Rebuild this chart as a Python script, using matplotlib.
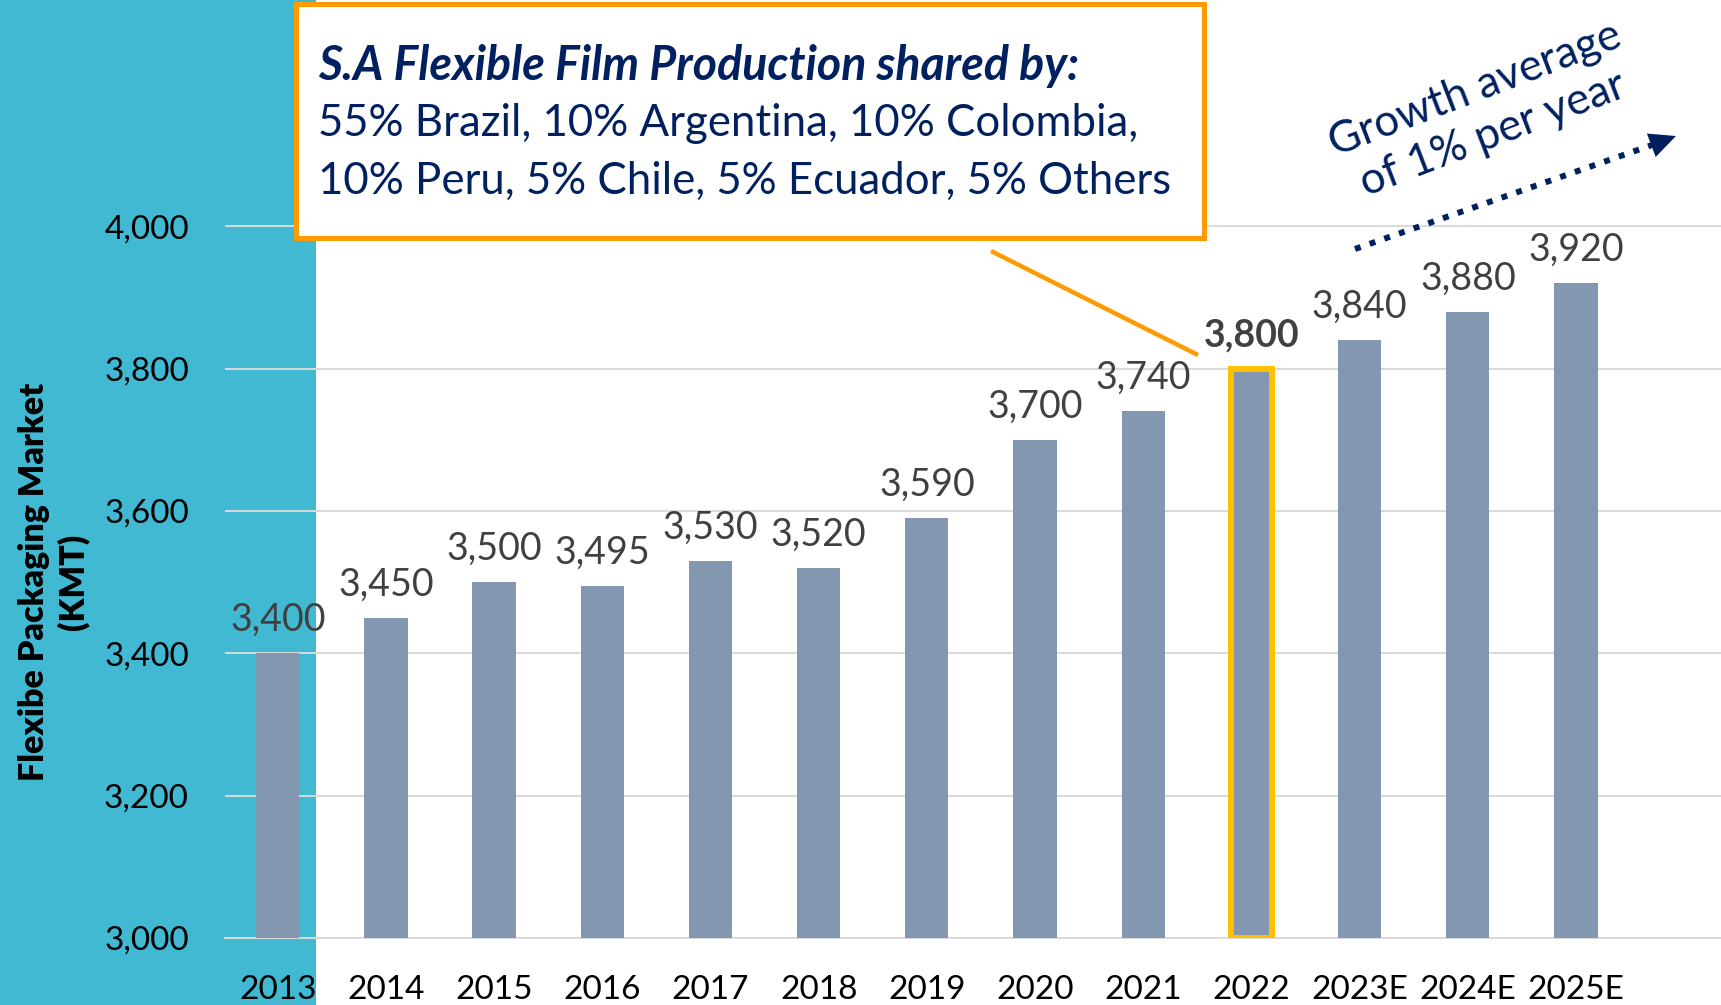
import matplotlib
matplotlib.use("Agg")
import matplotlib.pyplot as plt
from matplotlib.patches import Rectangle
from matplotlib.ticker import FuncFormatter

years = ["2013", "2014", "2015", "2016", "2017", "2018", "2019", "2020",
         "2021", "2022", "2023E", "2024E", "2025E"]
values = [3400, 3450, 3500, 3495, 3530, 3520, 3590, 3700, 3740, 3800, 3840, 3880, 3920]
highlight = "2022"
y_ticks = [3000, 3200, 3400, 3600, 3800, 4000]
ylabel = "Flexibe Packaging Market\n(KMT)"
box_title = "S.A Flexible Film Production shared by:"
box_lines = ["55% Brazil, 10% Argentina, 10% Colombia,",
             "10% Peru, 5% Chile, 5% Ecuador, 5% Others"]
growth_text = "Growth average\nof 1% per year"

FONT = "Lato"
plt.rcParams["font.family"] = [FONT, "DejaVu Sans"]

W, H = 1721, 1005
fig = plt.figure(figsize=(W / 100, H / 100), dpi=100)
fig.patch.set_facecolor("white")

def fx(px):
    return px / W

def fy(py):
    return 1 - py / H

# teal band on the left (drawn behind the axes)
fig.patches.append(Rectangle((0, 0), fx(316), 1, transform=fig.transFigure,
                             facecolor="#41B9D3", edgecolor="none", zorder=-10))

ax_left, ax_right = fx(225), 1.0
ax_bottom, ax_top = fy(938), fy(155)
ax = fig.add_axes([ax_left, ax_bottom, ax_right - ax_left, ax_top - ax_bottom])
ax.set_facecolor("none")
ax.patch.set_alpha(0)

x = list(range(len(years)))
bar_color = "#8497B0"
for i, (yr, v) in enumerate(zip(years, values)):
    if yr == highlight:
        ax.bar(i, v - 3000, bottom=3000, width=0.38, color=bar_color,
               edgecolor="#FFC000", linewidth=4.3, zorder=3)
    else:
        ax.bar(i, v - 3000, bottom=3000, width=0.4, color=bar_color,
               edgecolor="none", zorder=3)
    ax.annotate(f"{v:,}", (i, v), xytext=(0, 24), textcoords="offset points",
                ha="center", va="center", fontsize=27, color="#404040",
                fontweight="bold" if yr == highlight else "normal",
                annotation_clip=False, zorder=5)

ax.set_xlim(-0.487, 13.34)
ax.set_ylim(3000, 4100)
ax.set_yticks(y_ticks)
ax.yaxis.set_major_formatter(FuncFormatter(lambda v, p: f"{int(v):,}"))
ax.set_xticks(x)
ax.set_xticklabels(years)
ax.tick_params(axis="both", length=0, labelsize=24, colors="black")
ax.tick_params(axis="y", pad=26)
ax.tick_params(axis="x", pad=26.5)
ax.grid(axis="y", color="#D9D9D9", linewidth=1.4, zorder=0)
ax.set_axisbelow(True)
for s in ["top", "right", "left"]:
    ax.spines[s].set_visible(False)
ax.spines["bottom"].set_color("#D9D9D9")
ax.spines["bottom"].set_linewidth(1.4)

# y label
fig.text(fx(54), fy(582), ylabel, rotation=90, ha="center", va="center",
         multialignment="center", fontsize=24.5, fontweight="heavy", color="black",
         linespacing=1.25)

# annotation box
fig.patches.append(Rectangle((fx(296), fy(238)), fx(1204) - fx(296), fy(4) - fy(238),
                             transform=fig.transFigure, facecolor="white",
                             edgecolor="#FF9A00", linewidth=3.6, zorder=6))
navy = "#002060"
fig.text(fx(318), fy(66), box_title, ha="left", va="center", fontsize=33.5,
         fontweight="bold", fontstyle="italic", color=navy, zorder=7)
fig.text(fx(318), fy(124), box_lines[0], ha="left", va="center", fontsize=31.5,
         color=navy, zorder=7)
fig.text(fx(318), fy(181), box_lines[1], ha="left", va="center", fontsize=31.5,
         color=navy, zorder=7)

# connector line from box to highlighted bar label
fig.add_artist(plt.Line2D([fx(993), fx(1196)], [fy(252), fy(354)],
                          transform=fig.transFigure, color="#FF9A00",
                          linewidth=3.2, zorder=6))

# growth dotted arrow
fig.add_artist(plt.Line2D([fx(1355), fx(1652)], [fy(249), fy(145)],
                          transform=fig.transFigure, color=navy, linewidth=4.3,
                          linestyle=(0, (1, 1.6)), dash_capstyle="butt", zorder=6))
ax.annotate("", xy=(fx(1676), fy(136)), xytext=(fx(1648), fy(146.5)),
            xycoords="figure fraction", textcoords="figure fraction",
            arrowprops=dict(arrowstyle="-|>,head_length=0.95,head_width=0.45",
                            mutation_scale=20, color=navy, lw=0,
                            shrinkA=0, shrinkB=0),
            annotation_clip=False)
fig.text(fx(1484), fy(112), growth_text, rotation=21, rotation_mode="anchor",
         ha="center", va="center", multialignment="center", fontsize=31.5,
         color=navy, linespacing=1.2, zorder=7)

fig.savefig("out.png", dpi=100)
